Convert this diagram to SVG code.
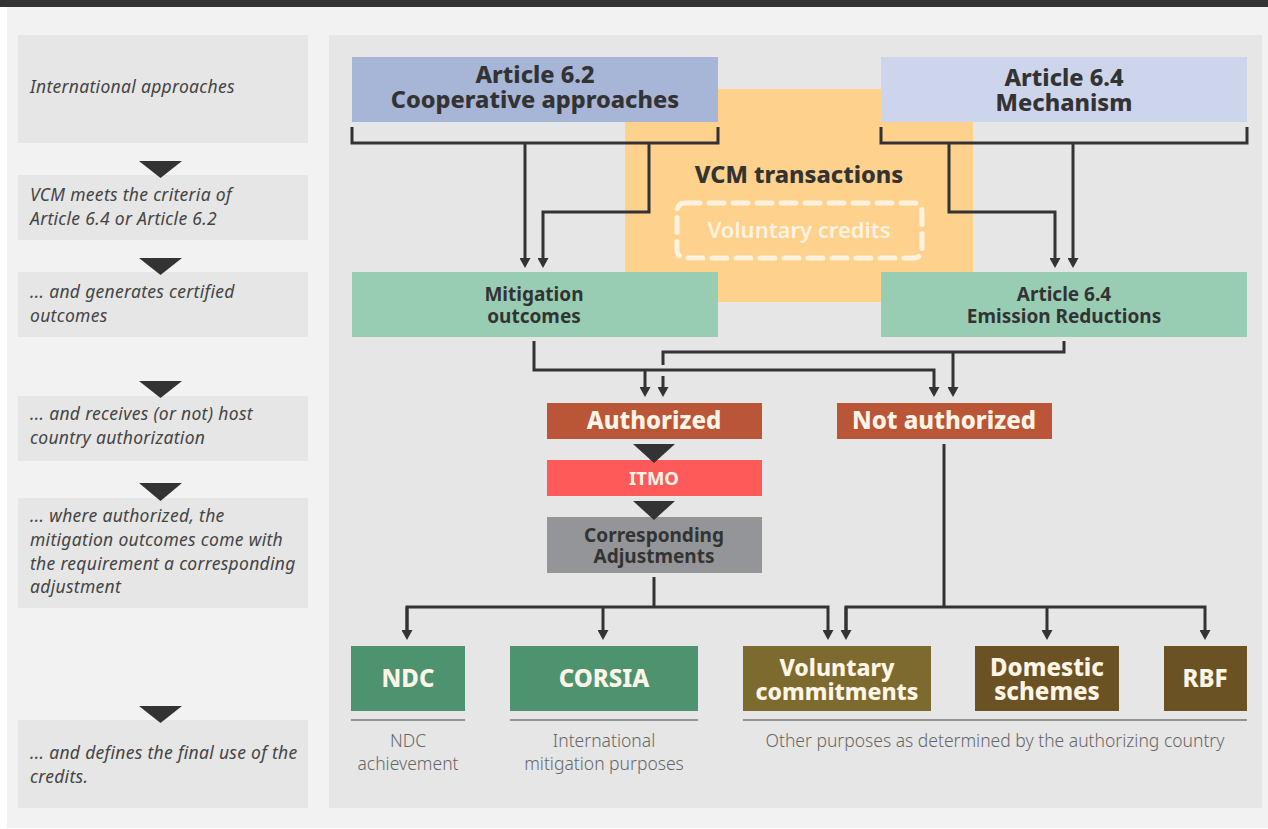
<svg xmlns="http://www.w3.org/2000/svg" width="1268" height="829" viewBox="0 0 1268 829">
<defs>
<marker id="ah" viewBox="0 0 10 11" refX="1" refY="5.5" markerWidth="10" markerHeight="11" markerUnits="userSpaceOnUse" orient="auto">
<path d="M0,0 L10,5.5 L0,11 z" fill="#333"/>
</marker>
</defs>
<style>
.panel{fill:#e6e6e6}
.step{font-family:"Noto Sans","Open Sans",sans-serif;font-style:italic;font-size:17.5px;letter-spacing:0.3px;fill:#444}
.tri{fill:#333}
.h1{font-family:"Noto Sans",sans-serif;font-weight:800;font-size:23.5px;fill:#333;text-anchor:middle}
.h2{font-family:"Noto Sans",sans-serif;font-weight:700;font-size:19px;fill:#333;text-anchor:middle}
.hw{font-family:"Noto Sans",sans-serif;font-weight:800;font-size:24px;fill:#fff5e6;text-anchor:middle}
.cap{font-family:"Noto Sans",sans-serif;font-weight:300;font-size:17.5px;fill:#666;text-anchor:middle}
.ln{fill:none;stroke:#333;stroke-width:3}
.ul{stroke:#777;stroke-width:1.5}
</style>
<rect x="0" y="0" width="1268" height="829" fill="#ffffff"/>
<rect x="7" y="7" width="1261" height="821" fill="#f2f2f2"/>
<rect x="0" y="0" width="1268" height="7" fill="#333"/>

<g id="steps">
<rect class="panel" x="18" y="35" width="290" height="108"/>
<text class="step" x="30" y="93">International approaches</text>
<rect class="panel" x="18" y="175" width="290" height="65"/>
<text class="step" x="30" y="201">VCM meets the criteria of</text>
<text class="step" x="30" y="225">Article 6.4 or Article 6.2</text>
<rect class="panel" x="18" y="272" width="290" height="65"/>
<text class="step" x="30" y="298">... and generates certified</text>
<text class="step" x="30" y="322">outcomes</text>
<rect class="panel" x="18" y="396" width="290" height="65"/>
<text class="step" x="30" y="420">... and receives (or not) host</text>
<text class="step" x="30" y="444">country authorization</text>
<rect class="panel" x="18" y="498" width="290" height="110"/>
<text class="step" x="30" y="522">... where authorized, the</text>
<text class="step" x="30" y="546">mitigation outcomes come with</text>
<text class="step" x="30" y="570">the requirement a corresponding</text>
<text class="step" x="30" y="593">adjustment</text>
<rect class="panel" x="18" y="720" width="290" height="88"/>
<text class="step" x="30" y="759">... and defines the final use of the</text>
<text class="step" x="30" y="783">credits.</text>
<polygon class="tri" points="139,161 182,161 160.5,178"/>
<polygon class="tri" points="139,258 182,258 160.5,275"/>
<polygon class="tri" points="139,381 182,381 160.5,398"/>
<polygon class="tri" points="139,483 182,483 160.5,501"/>
<polygon class="tri" points="139,706 182,706 160.5,723"/>
</g>

<rect class="panel" x="329" y="35" width="933" height="773"/>

<g id="vcm">
<rect x="625" y="89" width="348" height="213" fill="#fed18c"/>
<text class="h1" x="799" y="183">VCM transactions</text>
<rect x="677" y="203" width="245" height="55" rx="8" fill="none" stroke="#fff3e0" stroke-width="5" stroke-dasharray="15 9" stroke-linecap="round"/>
<text x="799" y="238" text-anchor="middle" font-family="'Noto Sans',sans-serif" font-weight="600" font-size="22" fill="#fff3e0">Voluntary credits</text>
</g>

<g id="art62">
<rect x="352" y="57" width="366" height="65" fill="#a7b5d6"/>
<text class="h1" x="535" y="83">Article 6.2</text>
<text class="h1" x="535" y="108">Cooperative approaches</text>
</g>
<g id="art64">
<rect x="881" y="57" width="366" height="65" fill="#cdd5ec"/>
<text class="h1" x="1064" y="86">Article 6.4</text>
<text class="h1" x="1064" y="111">Mechanism</text>
</g>
<g id="mitigation">
<rect x="352" y="272" width="366" height="65" fill="#99cdb3"/>
<text class="h2" x="534" y="301">Mitigation</text>
<text class="h2" x="534" y="323">outcomes</text>
</g>
<g id="er">
<rect x="881" y="272" width="366" height="65" fill="#99cdb3"/>
<text class="h2" x="1064" y="301">Article 6.4</text>
<text class="h2" x="1064" y="323">Emission Reductions</text>
</g>
<g id="authorized">
<rect x="547" y="403" width="215" height="36" fill="#bb5537"/>
<text class="hw" x="654" y="429">Authorized</text>
</g>
<g id="notauth">
<rect x="837" y="403" width="215" height="36" fill="#bb5537"/>
<text class="hw" x="944" y="429">Not authorized</text>
</g>
<g id="itmo">
<rect x="547" y="460" width="215" height="36" fill="#ff5a5a"/>
<text class="hw" x="654" y="485" style="font-size:18.5px;font-weight:700">ITMO</text>
</g>
<g id="ca">
<rect x="547" y="517" width="215" height="56" fill="#939598"/>
<text class="h2" x="654" y="542">Corresponding</text>
<text class="h2" x="654" y="563">Adjustments</text>
</g>
<g id="ndc">
<rect x="351" y="646" width="114" height="65" fill="#4e9370"/>
<text class="hw" x="408" y="687">NDC</text>
</g>
<g id="corsia">
<rect x="510" y="646" width="188" height="65" fill="#4e9370"/>
<text class="hw" x="604" y="687">CORSIA</text>
</g>
<g id="voluntary">
<rect x="743" y="646" width="188" height="65" fill="#7d6a2e"/>
<text class="hw" x="837" y="676" style="font-size:23px">Voluntary</text>
<text class="hw" x="837" y="700" style="font-size:23px">commitments</text>
</g>
<g id="domestic">
<rect x="975" y="646" width="144" height="65" fill="#6a5224"/>
<text class="hw" x="1047" y="676">Domestic</text>
<text class="hw" x="1047" y="700">schemes</text>
</g>
<g id="rbf">
<rect x="1164" y="646" width="83" height="65" fill="#6a5224"/>
<text class="hw" x="1205" y="687">RBF</text>
</g>

<g id="captions">
<line class="ul" x1="351" y1="720" x2="465" y2="720"/>
<line class="ul" x1="510" y1="720" x2="698" y2="720"/>
<line class="ul" x1="743" y1="720" x2="1247" y2="720"/>
<text class="cap" x="408" y="747">NDC</text>
<text class="cap" x="408" y="770">achievement</text>
<text class="cap" x="604" y="747">International</text>
<text class="cap" x="604" y="770">mitigation purposes</text>
<text class="cap" x="995" y="747">Other purposes as determined by the authorizing country</text>
</g>

<g id="connectors">
<path class="ln" d="M352,127 V143 H718 V127"/>
<path class="ln" d="M525,143 V259" marker-end="url(#ah)"/>
<path class="ln" d="M649,143 V212 H543 V259" marker-end="url(#ah)"/>
<path class="ln" d="M881,127 V143 H1247 V127"/>
<path class="ln" d="M949,143 V212 H1055 V259" marker-end="url(#ah)"/>
<path class="ln" d="M1073,143 V259" marker-end="url(#ah)"/>
<path class="ln" d="M534,341 V370 H934 V388" marker-end="url(#ah)"/>
<path class="ln" d="M645,370 V388" marker-end="url(#ah)"/>
<path class="ln" d="M1064,341 V352 H663 V365"/>
<path class="ln" d="M663,376 V388" marker-end="url(#ah)"/>
<path class="ln" d="M953,352 V388" marker-end="url(#ah)"/>
<polygon class="tri" points="633,444 675,444 654,463"/>
<polygon class="tri" points="633,501 675,501 654,520"/>
<path class="ln" d="M654,577 V607"/>
<path class="ln" d="M407,631 V607 H828 V631" marker-end="url(#ah)"/>
<path class="ln" d="M407,607 V631" marker-end="url(#ah)"/>
<path class="ln" d="M603,607 V631" marker-end="url(#ah)"/>
<path class="ln" d="M944,444 V607"/>
<path class="ln" d="M846,631 V607 H1205 V631" marker-end="url(#ah)"/>
<path class="ln" d="M846,607 V631" marker-end="url(#ah)"/>
<path class="ln" d="M1047,607 V631" marker-end="url(#ah)"/>
</g>
</svg>
